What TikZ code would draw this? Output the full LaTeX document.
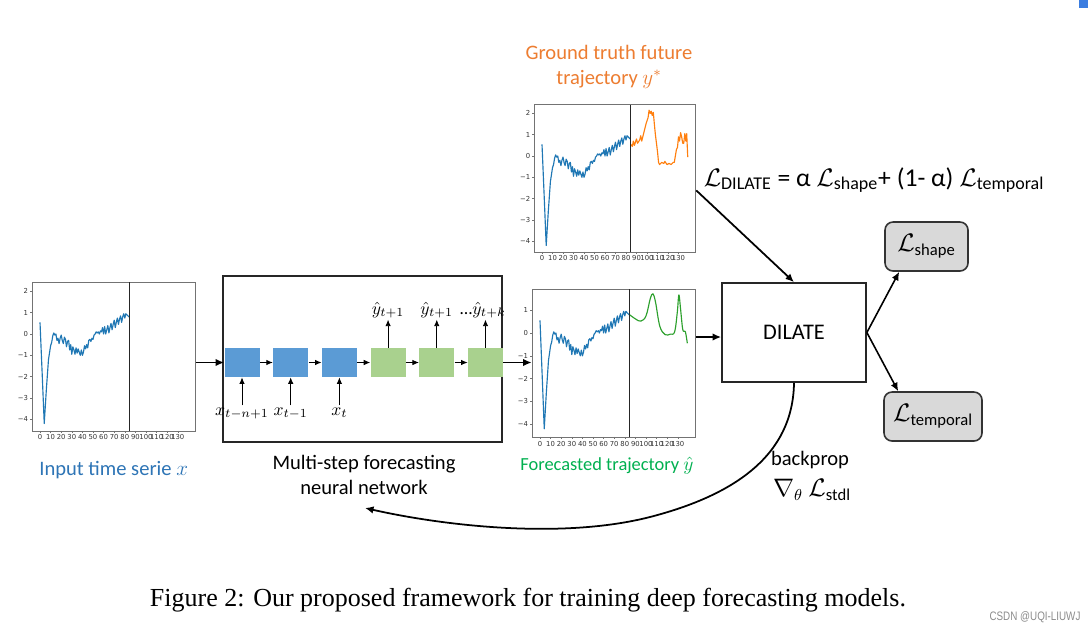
\documentclass[tikz,border=0pt]{standalone}
\usepackage{amsmath}
\usepackage{fontspec}
\setmainfont{Carlito}
\newfontfamily\tickfont{DejaVu Sans}
\newfontfamily\capfont{Liberation Serif}
\newfontfamily\wmfont{Liberation Sans}
\usetikzlibrary{arrows.meta,positioning}

\definecolor{serblue}{HTML}{1F77B4}
\definecolor{serorange}{HTML}{FF7F0E}
\definecolor{sergreen}{HTML}{2CA02C}
\definecolor{txtblue}{HTML}{2E75B6}
\definecolor{txtorange}{HTML}{ED7D31}
\definecolor{txtgreen}{HTML}{00B050}
\definecolor{cellblue}{HTML}{5B9BD5}
\definecolor{cellgreen}{HTML}{A9D18E}
\definecolor{lossgray}{HTML}{D9D9D9}
\definecolor{cornerblue}{HTML}{3B7DE0}

\newcommand{\lblsize}{\fontsize{11.7}{14}\selectfont}
\newcommand{\cellsize}{\fontsize{10}{12}\selectfont}
\newcommand{\losssize}{\fontsize{13.5}{15}\selectfont}

\tikzset{
  plotframe/.style={draw=black!55, line width=0.5pt, inner sep=0pt},
  cutline/.style={black!85, line width=0.7pt},
  tickmark/.style={black!55, line width=0.3pt},
  ticklbl/.style={font=\tickfont\fontsize{3.9}{4.5}\selectfont, text=black!80, inner sep=0.8pt},
  serline/.style={line width=0.65pt, line join=round},
  cellb/.style={fill=cellblue, minimum width=0.7cm, minimum height=0.58cm, inner sep=0pt},
  cellg/.style={fill=cellgreen, minimum width=0.7cm, minimum height=0.58cm, inner sep=0pt},
  cellarrow/.style={-{Latex[length=1.3mm,width=1.1mm]}, line width=0.5pt},
  mainarrow/.style={-{Latex[length=1.7mm,width=1.5mm]}, line width=1pt},
  lossbox/.style={draw=black!80, fill=lossgray, line width=0.9pt, rounded corners=0.16cm,
    minimum height=0.98cm, inner sep=0pt, font=\losssize},
  % the three curves, in data units
  pastline/.pic={
    \draw[serline, serblue] (0,0.55) -- (2,-1.8) -- (4,-4.2) -- (6,-2.6) -- (8,-1.2) -- (10,-0.55)
      -- (11,-0.4) -- (12,-0.1) -- (13,0.05) -- (14,-0.05) -- (15,0.0) -- (16,-0.3) -- (17,-0.2)
      -- (18,-0.45) -- (19,-0.2) -- (20,-0.05) -- (21,-0.3) -- (22,-0.45) -- (23,-0.15) -- (24,-0.25)
      -- (25,-0.6) -- (26,-0.35) -- (27,-0.3) -- (28,-0.75) -- (29,-0.5) -- (30,-0.95) -- (31,-0.6)
      -- (32,-0.75) -- (33,-0.95) -- (34,-0.65) -- (35,-0.9) -- (36,-0.7) -- (37,-0.85) -- (38,-1.0)
      -- (39,-0.75) -- (40,-1.0) -- (41,-0.85) -- (42,-0.55) -- (43,-0.7) -- (44,-0.5) -- (45,-0.65)
      -- (46,-0.3) -- (47,-0.25) -- (48,-0.35) -- (49,-0.2) -- (50,-0.25) -- (51,-0.05) -- (52,0.0)
      -- (53,0.1) -- (54,0.05) -- (55,0.1) -- (56,0.0) -- (57,0.15) -- (58,0.1) -- (59,0.3) -- (60,0.0)
      -- (61,0.35) -- (62,0.0) -- (63,0.2) -- (64,0.4) -- (65,0.05) -- (66,0.3) -- (67,0.5) -- (68,0.2)
      -- (69,0.45) -- (70,0.65) -- (71,0.3) -- (72,0.55) -- (73,0.75) -- (74,0.45) -- (75,0.7)
      -- (76,0.85) -- (77,0.55) -- (78,0.8) -- (79,0.95) -- (80,0.75) -- (81,0.95) -- (82,0.9)
      -- (83,0.85) -- (84,0.8);
  },
  truthline/.pic={
    \draw[serline, serorange] (84.5,0.55) -- (86,0.45) -- (87,0.7) -- (88,0.5) -- (90,0.8) -- (91,0.6)
      -- (93,0.75) -- (94,0.95) -- (95,0.7) -- (97,1.1) -- (99,1.5) -- (101,1.8) -- (102,2.15)
      -- (103,2.0) -- (104,2.1) -- (105,1.9) -- (106,2.05) -- (107,1.5) -- (108,1.0) -- (110,0.2)
      -- (111,-0.3) -- (112,-0.4) -- (114,-0.3) -- (116,-0.35) -- (117,-0.25) -- (119,-0.4)
      -- (121,-0.35) -- (123,-0.4) -- (125,-0.3) -- (126,-0.3) -- (128,0.3) -- (129,0.4) -- (130,0.9)
      -- (131,0.7) -- (132,1.1) -- (133,0.9) -- (134,0.6) -- (135,0.6) -- (136,1.05) -- (137,0.7)
      -- (137.8,1.05) -- (138.8,-0.05);
  },
  fcline/.pic={
    \draw[serline, sergreen] plot[smooth, tension=0.6] coordinates {(84,0.82) (90,0.62) (95,0.52)
      (100,0.75) (104,1.5) (106.5,1.72) (109,1.35) (113,0.3) (118,-0.07) (123,-0.05) (127,0.05)
      (129.5,0.9) (131,1.67) (132.5,1.1) (134.5,0.2) (136,0.07) (137.2,0.05) (139,-0.45)};
  },
}

% ticks of one plot, drawn inside its data scope: #1 bottom, #2 highest tick
\newcommand{\plotticks}[2]{
  \foreach \v in {-4,...,#2} {
    \pgfmathtruncatemacro{\va}{abs(\v)}
    \draw[tickmark] (-7.5,\v) -- ++(-2.2,0) node[ticklbl, left] {\ifnum\v<0 −\fi\va};
  }
  \foreach \t in {0,10,...,130}
    \draw[tickmark] (\t,#1) -- ++(0,-0.1) node[ticklbl, below] {\t};
}

\begin{document}
\begin{tikzpicture}[x=0.02cm, y=-0.02cm]
  \useasboundingbox (0,0) rectangle (1088,640);
  \fill[white] (0,0) rectangle (1088,640);
  \fill[cornerblue] (1079,0) rectangle (1088,8);

  % input series
  \node[plotframe, minimum width=3.266cm, minimum height=2.978cm] (inplot) at (113.7,356.5) {};
  \begin{scope}[shift={(40,334)}, xscale=1.06, yscale=-21.3]
    \plotticks{-4.55}{2}
    \pic[transform shape] {pastline};
    \draw[cutline] (84.5,-4.55) -- (84.5,2.44);
  \end{scope}
  \node[text=txtblue, font=\lblsize, below=0.48cm of inplot] (inlbl) {Input time serie $x$};

  % ground truth
  \node[plotframe, minimum width=3.234cm, minimum height=2.96cm] (gtplot) at (615,178.9) {};
  \begin{scope}[shift={(542,156)}, xscale=1.05, yscale=-21.3]
    \plotticks{-4.5}{2}
    \pic[transform shape] {pastline};
    \pic[transform shape] {truthline};
    \draw[cutline] (84.5,-4.5) -- (84.5,2.4);
  \end{scope}
  \node[text=txtorange, font=\lblsize, align=center] (gtlbl) at (609,67)
    {Ground truth future\\trajectory $y^{*}$};

  % forecast
  \node[plotframe, minimum width=3.265cm, minimum height=2.96cm] (fcplot) at (613.7,363) {};
  \begin{scope}[shift={(540,333)}, xscale=1.06, yscale=-22.8]
    \plotticks{-4.56}{1}
    \pic[transform shape] {pastline};
    \pic[transform shape] {fcline};
    \draw[cutline] (84.5,-4.56) -- (84.5,1.93);
  \end{scope}
  \node[text=txtgreen, font=\fontsize{10.5}{12}\selectfont, inner sep=1pt] (fclbl) at (607,466) {Forecasted trajectory $\hat{y}$};

  % network
  \node[draw=black!85, line width=1pt, minimum width=5.58cm, minimum height=3.32cm] (nnbox) at (362.5,359) {};
  \node[cellb] (cb1) at (242,362.5) {};
  \node[cellb, right=0.26cm of cb1] (cb2) {};
  \node[cellb, right=0.26cm of cb2] (cb3) {};
  \node[cellg, right=0.26cm of cb3] (cg1) {};
  \node[cellg, right=0.26cm of cg1] (cg2) {};
  \node[cellg, right=0.26cm of cg2] (cg3) {};
  \foreach \a/\b in {cb1/cb2,cb2/cb3,cb3/cg1,cg1/cg2,cg2/cg3}
    \draw[cellarrow] (\a) -- (\b);
  \foreach \c/\lbl in {cb1/{$x_{t-n+1}$},cb2/{$x_{t-1}$},cb3/{$x_t$}}
    \draw[cellarrow] ([yshift=-0.56cm]\c.south) node[below, inner sep=1pt, font=\cellsize] {\lbl} -- (\c.south);
  \foreach \c/\lbl/\dx in {cg1/{$\hat{y}_{t+1}$}/0,cg2/{$\hat{y}_{t+1}$}/0,cg3/{…$\hat{y}_{t+k}$}/-0.05}
    \draw[cellarrow] (\c.north) -- ++(0,-28) node[above, inner sep=0.5pt, xshift=\dx cm, font=\cellsize] {\lbl};
  \node[font=\lblsize, align=center] (nnlbl) at (364,475) {Multi-step forecasting\\neural network};

  \draw[mainarrow] (inplot.east |- cb1) -- (cb1.west);
  \draw[mainarrow] (cg3.east) -- (fcplot.west |- cg3);

  % loss
  \node[draw=black!85, line width=1pt, minimum width=2.88cm, minimum height=1.98cm,
    font=\fontsize{12.7}{15}\selectfont] (dil) at (794,332.5) {DILATE};
  \node[lossbox, minimum width=1.66cm] (lshape) at (926.5,246.5) {$\mathcal{L}_{\text{shape}}$};
  \node[lossbox, minimum width=1.96cm] (ltemp) at (933,416.5) {$\mathcal{L}_{\text{temporal}}$};
  \node[font=\fontsize{14.6}{16}\selectfont] (formula) at (874,180)
    {$\mathcal{L}_{\text{DILATE}}$ = α $\mathcal{L}_{\text{shape}}$+ (1- α) $\mathcal{L}_{\text{temporal}}$};

  \draw[mainarrow] (fcplot.east |- 0,337) -- (dil.west |- 0,337);
  \draw[mainarrow] ([yshift=-0.23cm]gtplot.east) -- (dil.north);
  \draw[mainarrow, line width=0.9pt] (dil.east) -- ([xshift=0.3cm]lshape.south west);
  \draw[mainarrow, line width=0.9pt] (dil.east) -- ([xshift=0.3cm]ltemp.north west);

  % backprop
  \coordinate (bpmid) at (650,517);
  \coordinate (bpend) at (365,508);
  \draw[mainarrow] (dil.south) .. controls (793,455) and (735,495) .. (bpmid)
    .. controls (560,540) and (440,525) .. (bpend);
  \node[font=\lblsize] (bplbl) at (810,460) {backprop};
  \node[font=\losssize] (gradlbl) at (812,490) {$\nabla_{\theta}\ \mathcal{L}_{\text{stdl}}$};

  % caption
  \node[font=\capfont\fontsize{14.8}{17}\selectfont] (cap) at (528,600)
    {Figure 2: Our proposed framework for training deep forecasting models.};
  \node[font=\wmfont\fontsize{7}{8}\selectfont, text=black!45] (wm) at (1035,617)
    {\scalebox{0.8}[1]{CSDN @UQI-LIUWJ}};
\end{tikzpicture}
\end{document}
